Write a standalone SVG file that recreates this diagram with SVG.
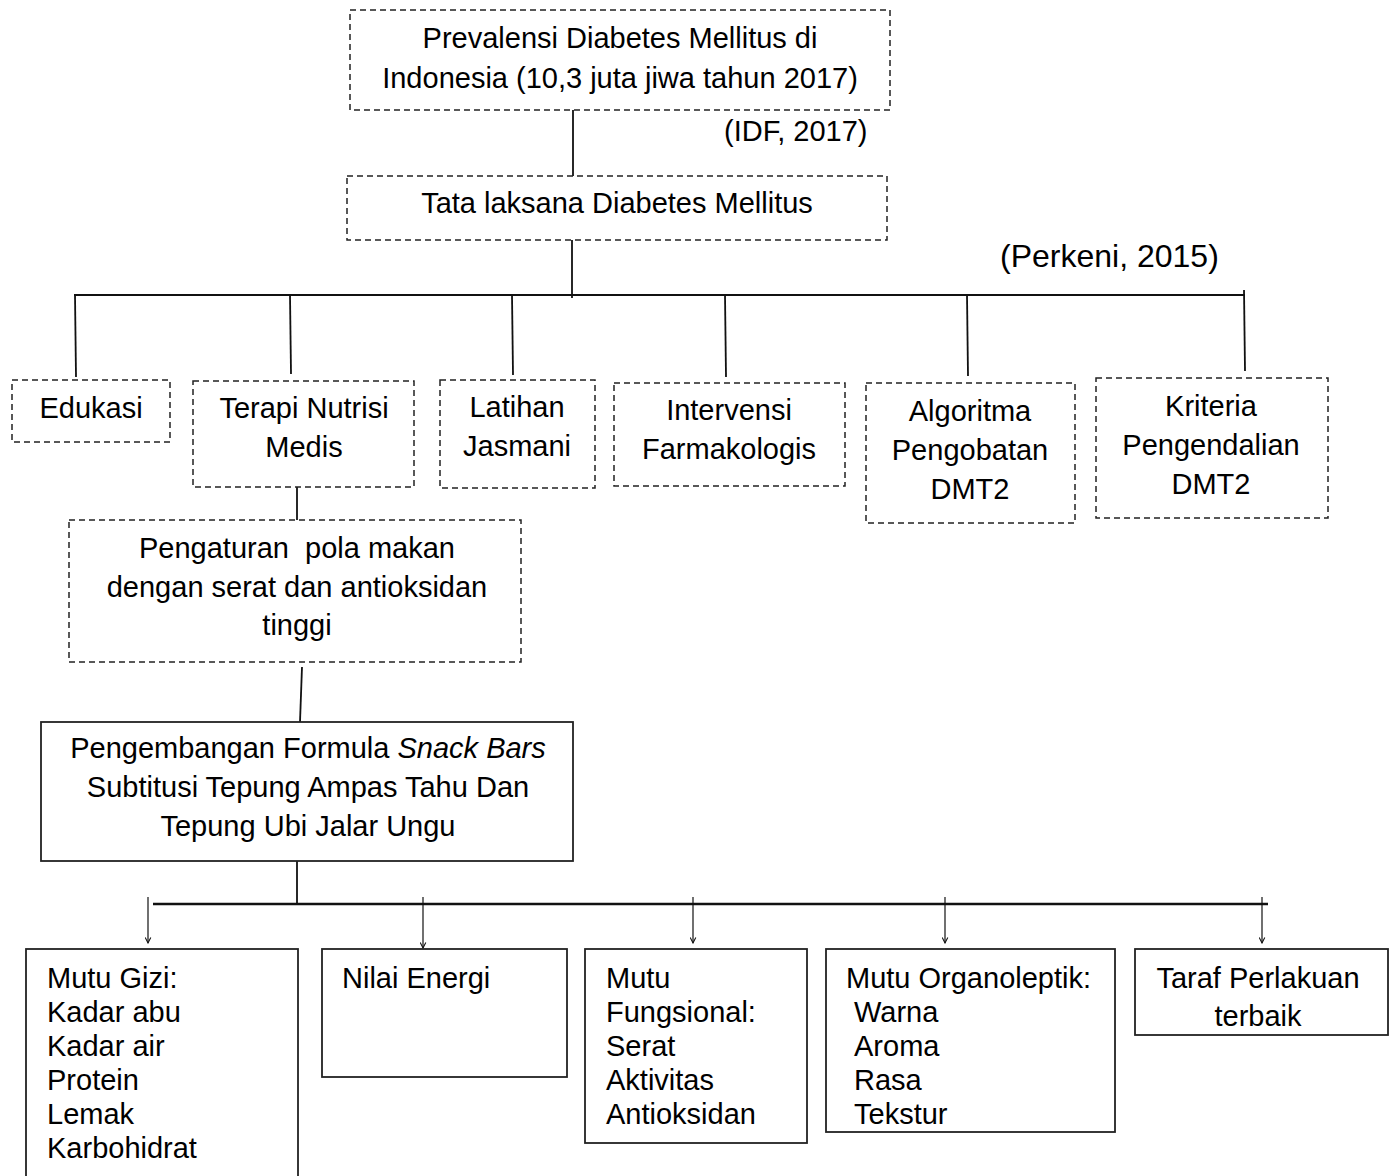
<svg xmlns="http://www.w3.org/2000/svg" width="1392" height="1176" viewBox="0 0 1392 1176">
<style>
text{font-family:"Liberation Sans",Arial,sans-serif;font-size:29px;fill:#000}
.c{text-anchor:middle}
.d{fill:none;stroke:#222;stroke-width:1.5;stroke-dasharray:6 4}
.s{fill:none;stroke:#222;stroke-width:1.8}
.l{stroke:#111;stroke-width:1.8;fill:none}
.a{stroke:#111;stroke-width:1.2;fill:none;marker-end:url(#ah)}
</style>
<defs>
<marker id="ah" viewBox="0 0 10 10" refX="9" refY="5" markerWidth="7" markerHeight="7" orient="auto" markerUnits="userSpaceOnUse">
<path d="M1,1 L9,5 L1,9" fill="none" stroke="#111" stroke-width="1.5"/>
</marker>
</defs>
<rect width="1392" height="1176" fill="#fff"/>
<g id="connectors">
<line class="l" x1="573" y1="110" x2="573" y2="176"/>
<line class="l" x1="572" y1="240" x2="572" y2="298"/>
<line class="l" x1="74" y1="295" x2="1245" y2="295"/>
<line class="l" x1="75" y1="295" x2="76" y2="377"/>
<line class="l" x1="290" y1="295" x2="291" y2="374"/>
<line class="l" x1="512" y1="295" x2="513" y2="375"/>
<line class="l" x1="725" y1="295" x2="726" y2="377"/>
<line class="l" x1="967" y1="295" x2="968" y2="376"/>
<line class="l" x1="1244" y1="290" x2="1245" y2="371"/>
<line class="l" x1="297" y1="487" x2="297" y2="520"/>
<line class="l" x1="302" y1="667" x2="300" y2="722"/>
<line class="l" x1="297" y1="861" x2="297" y2="904"/>
<line x1="153" y1="904" x2="1268" y2="904" stroke="#111" stroke-width="2.6"/>
<line class="a" x1="148" y1="897" x2="148" y2="943"/>
<line class="a" x1="423" y1="897" x2="423" y2="948"/>
<line class="a" x1="693" y1="897" x2="693" y2="943"/>
<line class="a" x1="945" y1="897" x2="945" y2="943"/>
<line class="a" x1="1262" y1="897" x2="1262" y2="943"/>
</g>
<g id="prevalensi">
<rect class="d" x="350" y="10" width="540" height="100"/>
<text class="c" x="620" y="48">Prevalensi Diabetes Mellitus di</text>
<text class="c" x="620" y="88">Indonesia (10,3 juta jiwa tahun 2017)</text>
</g>
<text x="724" y="141">(IDF, 2017)</text>
<g id="tatalaksana">
<rect class="d" x="347" y="176" width="540" height="64"/>
<text class="c" x="617" y="213">Tata laksana Diabetes Mellitus</text>
</g>
<text x="1000" y="267" style="font-size:32px">(Perkeni, 2015)</text>
<g id="edukasi">
<rect class="d" x="12" y="380" width="158" height="62"/>
<text class="c" x="91" y="418">Edukasi</text>
</g>
<g id="terapi">
<rect class="d" x="193" y="381" width="221" height="106"/>
<text class="c" x="304" y="418">Terapi Nutrisi</text>
<text class="c" x="304" y="457">Medis</text>
</g>
<g id="latihan">
<rect class="d" x="440" y="380" width="155" height="108"/>
<text class="c" x="517" y="417">Latihan</text>
<text class="c" x="517" y="456">Jasmani</text>
</g>
<g id="intervensi">
<rect class="d" x="614" y="383" width="231" height="103"/>
<text class="c" x="729" y="420">Intervensi</text>
<text class="c" x="729" y="459">Farmakologis</text>
</g>
<g id="algoritma">
<rect class="d" x="866" y="383" width="209" height="140"/>
<text class="c" x="970" y="421">Algoritma</text>
<text class="c" x="970" y="460">Pengobatan</text>
<text class="c" x="970" y="499">DMT2</text>
</g>
<g id="kriteria">
<rect class="d" x="1096" y="378" width="232" height="140"/>
<text class="c" x="1211" y="416">Kriteria</text>
<text class="c" x="1211" y="455">Pengendalian</text>
<text class="c" x="1211" y="494">DMT2</text>
</g>
<g id="pengaturan">
<rect class="d" x="69" y="520" width="452" height="142"/>
<text class="c" x="297" y="558" xml:space="preserve">Pengaturan  pola makan</text>
<text class="c" x="297" y="597">dengan serat dan antioksidan</text>
<text class="c" x="297" y="635">tinggi</text>
</g>
<g id="snackbars">
<rect class="s" x="41" y="722" width="532" height="139"/>
<text class="c" x="308" y="758">Pengembangan Formula <tspan font-style="italic">Snack Bars</tspan></text>
<text class="c" x="308" y="797">Subtitusi Tepung Ampas Tahu Dan</text>
<text class="c" x="308" y="836">Tepung Ubi Jalar Ungu</text>
</g>
<g id="mutugizi">
<rect class="s" x="26" y="949" width="272" height="240"/>
<text x="47" y="988">Mutu Gizi:</text>
<text x="47" y="1022">Kadar abu</text>
<text x="47" y="1056">Kadar air</text>
<text x="47" y="1090">Protein</text>
<text x="47" y="1124">Lemak</text>
<text x="47" y="1158">Karbohidrat</text>
</g>
<g id="nilaienergi">
<rect class="s" x="322" y="949" width="245" height="128"/>
<text x="342" y="988">Nilai Energi</text>
</g>
<g id="fungsional">
<rect class="s" x="585" y="949" width="222" height="194"/>
<text x="606" y="988">Mutu</text>
<text x="606" y="1022">Fungsional:</text>
<text x="606" y="1056">Serat</text>
<text x="606" y="1090">Aktivitas</text>
<text x="606" y="1124">Antioksidan</text>
</g>
<g id="organoleptik">
<rect class="s" x="826" y="949" width="289" height="183"/>
<text x="846" y="988">Mutu Organoleptik:</text>
<text x="854" y="1022">Warna</text>
<text x="854" y="1056">Aroma</text>
<text x="854" y="1090">Rasa</text>
<text x="854" y="1124">Tekstur</text>
</g>
<g id="taraf">
<rect class="s" x="1135" y="949" width="253" height="86"/>
<text class="c" x="1258" y="988">Taraf Perlakuan</text>
<text class="c" x="1258" y="1026">terbaik</text>
</g>
</svg>
